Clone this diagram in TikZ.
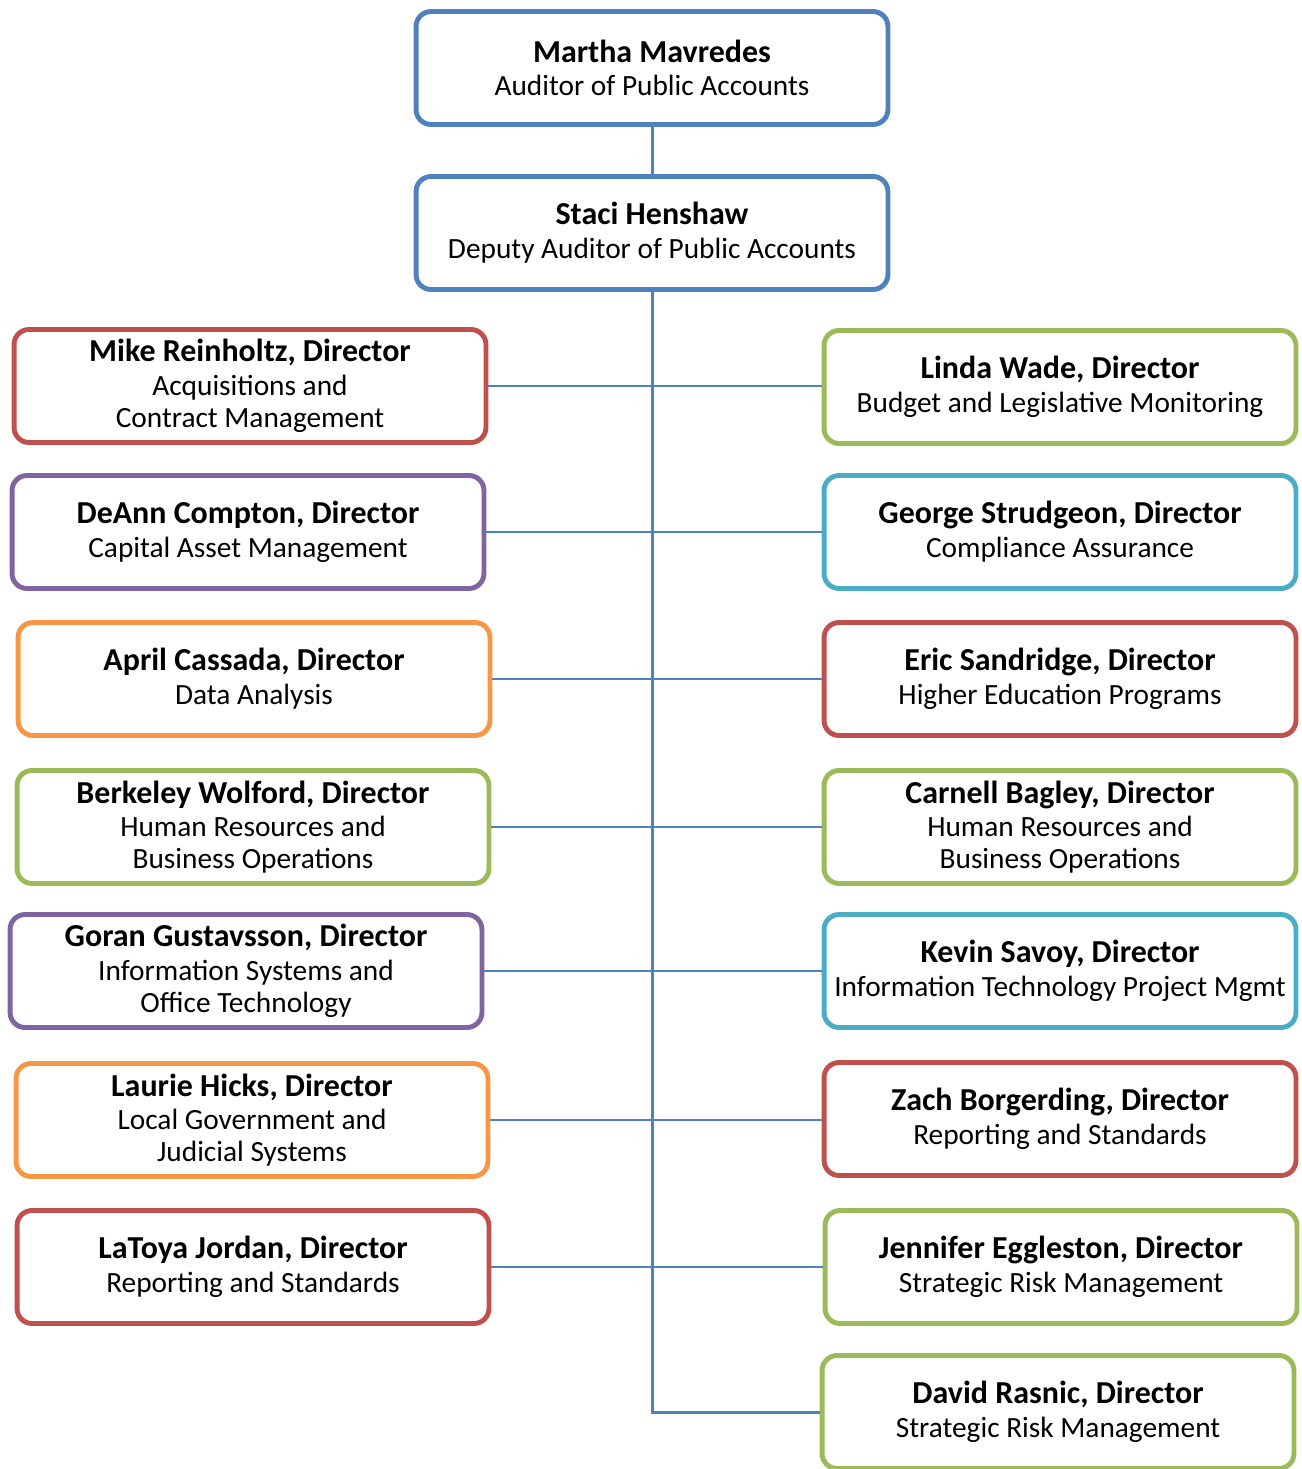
\documentclass[tikz,border=0pt]{standalone}
\usepackage{fontspec}
\setmainfont{Carlito}
\definecolor{cblue}{HTML}{4F81BD}
\definecolor{cred}{HTML}{C0504D}
\definecolor{cpurple}{HTML}{8064A2}
\definecolor{corange}{HTML}{F79646}
\definecolor{cgreen}{HTML}{9BBB59}
\definecolor{caqua}{HTML}{4BACC6}
\newcommand\pname[1]{{\fontsize{18.2}{20}\selectfont\bfseries #1}}
\begin{document}
\begin{tikzpicture}[x=0.02cm,y=-0.02cm,
  box/.style={draw=#1, line width=2.8pt, rounded corners=0.3cm, fill=white,
    minimum width=9.44cm, minimum height=2.26cm, align=center, inner sep=2pt,
    font=\fontsize{16.7}{18.2}\selectfont},
  link/.style={draw=cblue, line width=1.5pt},
  trunk/.style={draw=cblue, line width=1.7pt},
  thinlink/.style={draw=cblue, line width=0.7pt}]
\useasboundingbox (0,0) rectangle (1301,1469);

\node[box=cblue] (martha) at (652,68) {\pname{Martha Mavredes}\\[1pt]Auditor of Public Accounts};
\node[box=cblue] (staci) at (652,233) {\pname{Staci Henshaw}\\[1pt]Deputy Auditor of Public Accounts};

\node[box=cred] (mike) at (250,386) {\pname{Mike Reinholtz, Director}\\[1pt]Acquisitions and\\Contract Management};
\node[box=cpurple] (deann) at (248,532) {\pname{DeAnn Compton, Director}\\[1pt]Capital Asset Management};
\node[box=corange] (april) at (254,679) {\pname{April Cassada, Director}\\[1pt]Data Analysis};
\node[box=cgreen] (berkeley) at (253,827) {\pname{Berkeley Wolford, Director}\\[1pt]Human Resources and\\Business Operations};
\node[box=cpurple] (goran) at (246,971) {\pname{Goran Gustavsson, Director}\\[1pt]Information Systems and\\Office Technology};
\node[box=corange] (laurie) at (252,1120) {\pname{Laurie Hicks, Director}\\[1pt]Local Government and\\Judicial Systems};
\node[box=cred] (latoya) at (253,1267) {\pname{LaToya Jordan, Director}\\[1pt]Reporting and Standards};

\node[box=cgreen] (linda) at (1060,387) {\pname{Linda Wade, Director}\\[1pt]Budget and Legislative Monitoring};
\node[box=caqua] (george) at (1060,532) {\pname{George Strudgeon, Director}\\[1pt]Compliance Assurance};
\node[box=cred] (eric) at (1060,679) {\pname{Eric Sandridge, Director}\\[1pt]Higher Education Programs};
\node[box=cgreen] (carnell) at (1060,827) {\pname{Carnell Bagley, Director}\\[1pt]Human Resources and\\Business Operations};
\node[box=caqua] (kevin) at (1060,971) {\pname{Kevin Savoy, Director}\\[1pt]Information Technology Project Mgmt};
\node[box=cred] (zach) at (1060,1119) {\pname{Zach Borgerding, Director}\\[1pt]Reporting and Standards};
\node[box=cgreen] (jennifer) at (1061,1267) {\pname{Jennifer Eggleston, Director}\\[1pt]Strategic Risk Management};
\node[box=cgreen] (david) at (1058,1412) {\pname{David Rasnic, Director}\\[1pt]Strategic Risk Management};

\draw[trunk] (martha.south) -- (staci.north);
\draw[trunk] (staci.south) |- (david.west);
\draw[thinlink] (mike.east) -- (mike.east -| linda.west);
\draw[link] (deann.east) -- (deann.east -| george.west);
\draw[link] (april.east) -- (april.east -| eric.west);
\draw[link] (berkeley.east) -- (berkeley.east -| carnell.west);
\draw[link] (goran.east) -- (goran.east -| kevin.west);
\draw[link] (laurie.east) -- (laurie.east -| zach.west);
\draw[link] (latoya.east) -- (latoya.east -| jennifer.west);
\end{tikzpicture}
\end{document}
